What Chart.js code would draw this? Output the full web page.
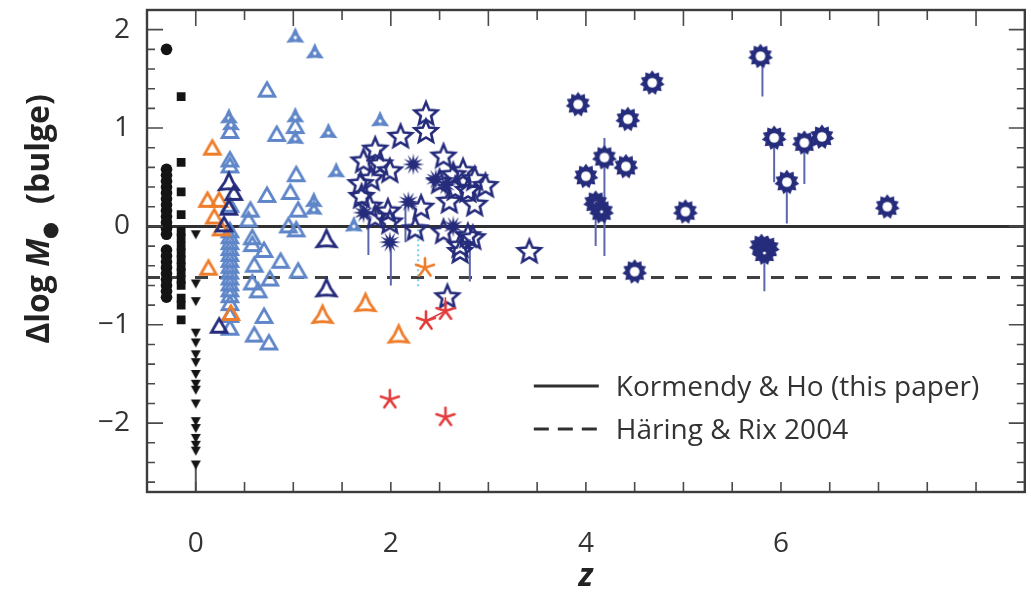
<!DOCTYPE html>
<html>
<head>
<meta charset="utf-8">
<script src="https://cdn.jsdelivr.net/npm/chart.js@4/dist/chart.umd.min.js"></script>
<style>
  html, body { margin: 0; padding: 0; background: #fff; }
  canvas { display: block; }
</style>
</head>
<body>
<canvas id="chart" width="1031" height="598"></canvas>
<script>
// ---- data (z, delta log M_BH) ----
const xTickLabels = [0, 2, 4, 6];
const yTickLabels = [-2, -1, 0, 1, 2];

const circleZ = -0.3;
const circleDM = [1.8, 0.58, 0.52, 0.46, 0.40, 0.34, 0.28, 0.22, 0.16, 0.10, 0.04, -0.02, -0.08,
                  -0.24, -0.30, -0.36, -0.42, -0.48, -0.54, -0.60, -0.66, -0.72];

const squareZ = -0.15;
const squareDM = [1.32, 0.65, 0.35, 0.12, -0.05, -0.12, -0.2, -0.27, -0.34, -0.41, -0.47, -0.54,
                  -0.6, -0.73, -0.8, -0.95];

const limitZ = 0;
const limitDM = [-0.08, -0.58, -0.76, -1.08, -1.18, -1.3, -1.38, -1.5, -1.6, -1.66, -1.8, -1.98,
                 -2.05, -2.15, -2.22, -2.28, -2.42];

const orangeTriZ = [0.17, 0.12, 0.24, 0.19, 0.26, 0.13, 0.36];
const orangeTriDM = [0.78, 0.25, 0.25, 0.08, -0.04, -0.44, -0.9];
const orangeBladeZ = [1.3, 1.74, 2.08];
const orangeBladeDM = [-0.92, -0.8, -1.12];
const orangeAstZ = [2.35];
const orangeAstDM = [-0.42];
const redAstZ = [2.36, 2.56, 1.99, 2.56];
const redAstDM = [-0.96, -0.86, -1.76, -1.94];

const blueColZ = 0.35;
const blueColDM = [0.95, 0.66, 0.6, 0.2, -0.06, -0.12, -0.18, -0.24, -0.3, -0.36, -0.42, -0.48,
                   -0.54, -0.6, -0.66, -0.72, -0.8, -0.92, -1.05];
const blueTriZ = [0.73, 0.83, 1.03, 0.73, 0.97, 1.05, 0.56, 0.54, 0.95, 1.03, 0.58, 0.58, 0.7, 0.6,
                  0.87, 1.05, 0.76, 0.58, 0.64, 0.7, 0.6, 0.75, 1.02];
const blueTriDM = [1.37, 0.92, 0.51, 0.3, 0.33, 0.15, 0.15, 0.05, -0.01, -0.05, -0.13, -0.2, -0.26,
                   -0.41, -0.37, -0.47, -0.55, -0.59, -0.67, -0.93, -1.12, -1.2, 1.0];
const blueBladeZ = [1.02, 1.22, 1.36, 1.89, 1.44, 1.21, 1.21, 1.62, 1.02, 1.02, 0.34, 0.36];
const blueBladeDM = [1.92, 1.76, 0.95, 1.07, 0.55, 0.25, 0.17, 0.0, 1.11, 0.89, 1.1, 1.03];

const navyTriZ = [0.39, 0.34, 0.29, 0.24];
const navyTriDM = [0.32, 0.17, 0.0, -1.03];
const navyBladeZ = [0.34, 1.34, 1.34];
const navyBladeDM = [0.43, -0.15, -0.65];

const starZ = [2.36, 2.36, 2.1, 1.84, 1.72, 1.89, 1.99, 2.54, 2.64, 2.74, 2.86, 2.97, 1.69, 1.8, 1.7,
               2.31, 2.66, 2.79, 2.86, 1.97, 1.84, 1.99, 2.25, 2.54, 2.79, 2.71, 2.71, 2.84, 2.58,
               3.42, 1.78, 2.5, 2.6];
const starDM = [1.14, 0.96, 0.91, 0.78, 0.66, 0.63, 0.56, 0.71, 0.52, 0.56, 0.48, 0.41, 0.43, 0.48, 0.3,
                0.19, 0.38, 0.36, 0.22, 0.15, 0.09, 0.04, -0.03, -0.06, -0.1, -0.2, -0.26, -0.12, -0.72,
                -0.26, 0.2, 0.45, 0.25];
const burstZ = [2.23, 2.46, 2.18, 1.72, 2.64, 1.99, 2.56];
const burstDM = [0.63, 0.48, 0.25, 0.14, 0.0, -0.16, 0.42];

const gearZ = [3.92, 4.68, 4.43, 4.19, 4.0, 4.41, 5.02, 4.5, 5.79, 5.93, 6.06, 6.24, 6.42, 7.09];
const gearDM = [1.24, 1.46, 1.09, 0.7, 0.51, 0.61, 0.15, -0.46, 1.73, 0.9, 0.45, 0.85, 0.91, 0.2];
const darkGearZ = [4.1, 4.16, 5.8, 5.86, 5.83];
const darkGearDM = [0.24, 0.15, -0.2, -0.22, -0.27];

// vertical error bars: z, upper, lower
const navyErrZ = [1.77, 2.0, 2.15, 2.81, 4.19, 4.1, 5.81, 5.93, 6.06, 6.24, 5.83];
const navyErrHi = [0.0, -0.16, 0.24, -0.13, 0.9, 0.2, 1.75, 0.9, 0.45, 0.85, -0.2];
const navyErrLo = [-0.29, -0.6, -0.16, -0.56, -0.3, -0.2, 1.32, 0.45, 0.03, 0.43, -0.66];
const redErrZ = [2.56];
const redErrHi = [-0.72];
const redErrLo = [-0.86];
const cyanErrZ = [2.28];
const cyanErrHi = [-0.03];
const cyanErrLo = [-0.62];
const redLinkZ = [2.36, 2.56];
const redLinkDM = [-0.96, -0.86];
const limitTailDM = [-2.42, -2.7];

const xRange = [-0.5, 8.5];
const kormendyHo = [0, 0];
const haringRix = [-0.52, -0.52];
const legendLabels = ["Kormendy & Ho (this paper)", "H\u00e4ring & Rix 2004"];

// ---- colours ----
const BLACK = "#141414";
const LIGHTBLUE = "#5f86c8";
const NAVY = "#262c7c";
const NAVYERR = "#5c66aa";
const ORANGE = "#ee7d2b";
const RED = "#e23c3c";
const CYAN = "#7fd4f0";

// ---- marker images ----
function marker(size, draw) {
    const c = document.createElement("canvas");
    c.width = size; c.height = size;
    const g = c.getContext("2d");
    g.translate(size / 2, size / 2);
    draw(g);
    return c;
}

function starPath(g, n, rOut, rIn, start) {
    g.beginPath();
    for (let i = 0; i < n * 2; i++) {
        const r = i % 2 === 0 ? rOut : rIn;
        const a = start + i * Math.PI / n;
        const px = r * Math.cos(a), py = r * Math.sin(a);
        if (i === 0) g.moveTo(px, py); else g.lineTo(px, py);
    }
    g.closePath();
}

function openTriangle(color) {
    return marker(28, g => {
        starPath(g, 3, 9, 4.5, -Math.PI / 2);
        g.strokeStyle = color; g.lineWidth = 2.8; g.lineJoin = "miter";
        g.stroke();
    });
}

function bladeFilled(color) {
    return marker(28, g => {
        starPath(g, 3, 10.5, 4.4, -Math.PI / 2);
        g.fillStyle = color; g.fill();
        g.beginPath(); g.arc(0, 0, 1.7, 0, Math.PI * 2); g.fillStyle = "#fff"; g.fill();
    });
}

function bladeOutline(color) {
    return marker(30, g => {
        starPath(g, 3, 11, 4.6, -Math.PI / 2);
        g.strokeStyle = color; g.lineWidth = 2.8; g.lineJoin = "miter"; g.miterLimit = 3;
        g.stroke();
    });
}

function openStar(color) {
    return marker(32, g => {
        starPath(g, 5, 12, 5.4, -Math.PI / 2);
        g.strokeStyle = color; g.lineWidth = 2.6; g.lineJoin = "miter";
        g.stroke();
    });
}

function burst(color) {
    return marker(30, g => {
        starPath(g, 12, 11, 4.5, -Math.PI / 2);
        g.fillStyle = color; g.fill();
    });
}

function gear(color, hole) {
    return marker(32, g => {
        starPath(g, 11, 12.5, 9.3, -Math.PI / 2);
        g.fillStyle = color; g.fill();
        g.beginPath(); g.arc(0, 0, hole, 0, Math.PI * 2); g.fillStyle = "#fff"; g.fill();
    });
}

function asterisk(color) {
    return marker(26, g => {
        g.strokeStyle = color; g.lineWidth = 2.6; g.lineCap = "round";
        for (let i = 0; i < 5; i++) {
            const a = -Math.PI / 2 + i * 2 * Math.PI / 5;
            g.beginPath(); g.moveTo(0, 0); g.lineTo(9.5 * Math.cos(a), 9.5 * Math.sin(a)); g.stroke();
        }
    });
}

function downTriangle(color) {
    return marker(14, g => {
        g.beginPath(); g.moveTo(-5, -4); g.lineTo(5, -4); g.lineTo(0, 5); g.closePath();
        g.fillStyle = color; g.fill();
    });
}

// ---- dataset helpers ----
const pts = (zs, ys) => ys.map((y, i) => ({ x: Array.isArray(zs) ? zs[i] : zs, y }));

function markerSet(label, zs, ys, style, extra) {
    return Object.assign({ label, data: pts(zs, ys), pointStyle: style, pointRadius: 4,
                           showLine: false }, extra || {});
}

function errorSet(label, zs, hi, lo, color, width, dash) {
    const data = [];
    zs.forEach((z, i) => {
        data.push({ x: z, y: hi[i] }, { x: z, y: lo[i] }, { x: z, y: null });
    });
    return { label, data, showLine: true, spanGaps: false, pointRadius: 0,
             borderColor: color, borderWidth: width, borderDash: dash || [] };
}

function lineSet(label, xs, ys, color, width, dash) {
    return { label, data: pts(xs, ys), showLine: true, pointRadius: 0,
             borderColor: color, borderWidth: width, borderDash: dash || [] };
}

const datasets = [
    markerSet("red asterisk", redAstZ, redAstDM, asterisk(RED)),
    markerSet("orange asterisk", orangeAstZ, orangeAstDM, asterisk(ORANGE)),
    markerSet("gear", gearZ, gearDM, gear(NAVY, 4.8)),
    markerSet("dark gear", darkGearZ, darkGearDM, gear(NAVY, 1.5)),
    markerSet("burst", burstZ, burstDM, burst(NAVY)),
    markerSet("star", starZ, starDM, openStar(NAVY)),
    markerSet("navy blade", navyBladeZ, navyBladeDM, bladeOutline(NAVY)),
    markerSet("navy triangle", navyTriZ, navyTriDM, openTriangle(NAVY)),
    markerSet("orange blade", orangeBladeZ, orangeBladeDM, bladeOutline(ORANGE)),
    markerSet("orange triangle", orangeTriZ, orangeTriDM, openTriangle(ORANGE)),
    markerSet("blue blade", blueBladeZ, blueBladeDM, bladeFilled(LIGHTBLUE)),
    markerSet("blue triangle", blueTriZ, blueTriDM, openTriangle(LIGHTBLUE)),
    markerSet("blue column", blueColZ, blueColDM, openTriangle(LIGHTBLUE)),
    markerSet("upper limits", limitZ, limitDM, downTriangle(BLACK)),
    markerSet("squares", squareZ, squareDM, "rect", { pointRadius: 6.2, backgroundColor: BLACK, borderColor: BLACK, borderWidth: 0 }),
    markerSet("circles", circleZ, circleDM, "circle", { pointRadius: 5.8, backgroundColor: BLACK, borderColor: BLACK, borderWidth: 0 }),
    lineSet("red link", redLinkZ, redLinkDM, RED, 1.6),
    errorSet("red err", redErrZ, redErrHi, redErrLo, RED, 1.6),
    errorSet("cyan err", cyanErrZ, cyanErrHi, cyanErrLo, CYAN, 2.4, [2, 3]),
    errorSet("navy err", navyErrZ, navyErrHi, navyErrLo, NAVYERR, 2),
    lineSet("limit tail", [limitZ, limitZ], limitTailDM, "#555", 2),
    lineSet(legendLabels[0], xRange, kormendyHo, "#303030", 3),
    lineSet(legendLabels[1], xRange, haringRix, "#404040", 3, [13, 11])
];

// ---- frame, inward ticks, titles, legend ----
const FONT = "'Open Sans', 'Noto Sans', sans-serif";

const framePlugin = {
    id: "frame",
    afterDraw(chart) {
        const { ctx, chartArea: a, scales: { x, y } } = chart;
        ctx.save();
        ctx.strokeStyle = "#4a4a4a";
        ctx.lineWidth = 1.6;
        for (let v = -0.5; v <= 8.5001; v += 0.5) {
            const px = x.getPixelForValue(v);
            const major = Math.abs(v - Math.round(v)) < 1e-6;
            ctx.beginPath();
            ctx.moveTo(px, a.bottom); ctx.lineTo(px, a.bottom - 10);
            ctx.moveTo(px, a.top); ctx.lineTo(px, a.top + (major ? 16 : 10));
            ctx.stroke();
        }
        for (let v = -2.6; v <= 2.2001; v += 0.2) {
            const py = y.getPixelForValue(v);
            const major = Math.abs(v - Math.round(v)) < 1e-6;
            const len = major ? 16 : 8;
            ctx.beginPath();
            ctx.moveTo(a.left, py); ctx.lineTo(a.left + len, py);
            ctx.moveTo(a.right, py); ctx.lineTo(a.right - len, py);
            ctx.stroke();
        }
        ctx.lineWidth = 2.4;
        ctx.strokeStyle = "#3c3c3c";
        ctx.strokeRect(a.left, a.top, a.width, a.height);

        // x title
        ctx.fillStyle = "#222";
        ctx.font = "italic bold 32px " + FONT;
        ctx.textAlign = "center";
        ctx.textBaseline = "middle";
        ctx.fillText("z", (a.left + a.right) / 2, 577);

        // y title: "Δlog M● (bulge)"
        ctx.save();
        ctx.translate(40, 219);
        ctx.rotate(-Math.PI / 2);
        ctx.textAlign = "left";
        ctx.textBaseline = "middle";
        const bold = "bold 32px " + FONT;
        const ital = "italic bold 32px " + FONT;
        ctx.font = bold; const w1 = ctx.measureText("\u0394log ").width;
        ctx.font = ital; const w2 = ctx.measureText("M").width;
        const wb = 18;
        ctx.font = bold; const w3 = ctx.measureText("  (bulge)").width;
        let cx = -(w1 + w2 + wb + w3) / 2;
        ctx.font = bold; ctx.fillText("\u0394log ", cx, 0); cx += w1;
        ctx.font = ital; ctx.fillText("M", cx, 0); cx += w2;
        ctx.beginPath(); ctx.arc(cx + 8, 11, 7.5, 0, Math.PI * 2); ctx.fill(); cx += wb;
        ctx.font = bold; ctx.fillText("  (bulge)", cx, 0);
        ctx.restore();

        // legend inside the plot, lower right
        const lx = a.right - 491, ty = [386, 429];
        ctx.lineWidth = 3;
        ctx.strokeStyle = "#303030";
        ctx.setLineDash([]);
        ctx.beginPath(); ctx.moveTo(lx, ty[0]); ctx.lineTo(lx + 65, ty[0]); ctx.stroke();
        ctx.setLineDash([15, 9]);
        ctx.beginPath(); ctx.moveTo(lx, ty[1]); ctx.lineTo(lx + 65, ty[1]); ctx.stroke();
        ctx.setLineDash([]);
        ctx.fillStyle = "#333";
        ctx.font = "28px " + FONT;
        ctx.textAlign = "left";
        ctx.textBaseline = "middle";
        legendLabels.forEach((t, i) => ctx.fillText(t, lx + 82, ty[i] + 2));
        ctx.restore();
    }
};

new Chart(document.getElementById("chart").getContext("2d"), {
    type: "scatter",
    data: { datasets },
    options: {
        responsive: false,
        animation: false,
        layout: { padding: { left: 0, right: 3, top: 10, bottom: 0 } },
        plugins: { legend: { display: false }, tooltip: { enabled: false } },
        scales: {
            x: {
                type: "linear", min: xRange[0], max: xRange[1],
                grid: { display: false, drawTicks: false },
                border: { display: false },
                afterBuildTicks: s => { s.ticks = xTickLabels.map(v => ({ value: v })); },
                afterFit: s => { s.height = 106; s.paddingLeft = 0; s.paddingRight = 0; },
                ticks: { padding: 35, maxRotation: 0, color: "#333", font: { family: FONT, size: 28 } }
            },
            y: {
                type: "linear", min: -2.7, max: 2.2,
                grid: { display: false, drawTicks: false },
                border: { display: false },
                afterBuildTicks: s => { s.ticks = yTickLabels.map(v => ({ value: v })); },
                afterFit: s => { s.width = 147; s.paddingTop = 0; s.paddingBottom = 0; },
                ticks: {
                    padding: 17, color: "#333", font: { family: FONT, size: 28 },
                    callback: v => (v < 0 ? "\u2212" + Math.abs(v) : String(v))
                }
            }
        }
    },
    plugins: [framePlugin]
});
</script>
</body>
</html>
